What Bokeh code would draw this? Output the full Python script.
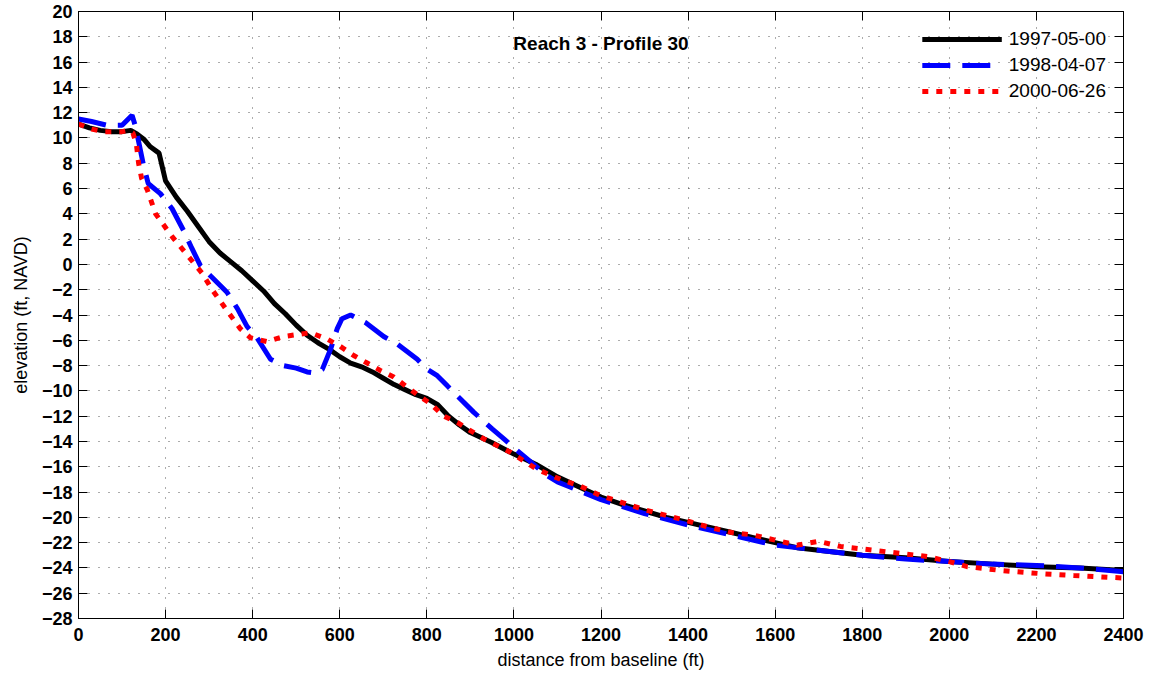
from bokeh.plotting import figure
from bokeh.models import LinearAxis, FixedTicker, Legend, LegendItem, Label
from bokeh.embed import file_html
from bokeh.resources import INLINE

# ---- data ----
x_1997 = [0, 25, 50, 75, 100, 120, 135, 150, 165, 185, 200, 225, 250, 275, 300, 325, 350, 375,
          400, 425, 450, 475, 500, 525, 550, 575, 600, 625, 650, 675, 700, 725, 750, 775, 800,
          825, 850, 875, 900, 950, 1000, 1050, 1100, 1150, 1200, 1250, 1300, 1350, 1400, 1450,
          1500, 1550, 1600, 1650, 1700, 1800, 1900, 2000, 2100, 2200, 2300, 2400]
y_1997 = [11.1, 10.8, 10.6, 10.5, 10.5, 10.6, 10.3, 9.9, 9.3, 8.8, 6.6, 5.3, 4.2, 3.0, 1.8, 0.9,
          0.2, -0.5, -1.3, -2.1, -3.1, -3.9, -4.8, -5.6, -6.2, -6.7, -7.3, -7.8, -8.1, -8.5,
          -9.0, -9.5, -9.9, -10.3, -10.6, -11.1, -12.0, -12.7, -13.3, -14.1, -15.0, -15.8,
          -16.8, -17.6, -18.4, -19.0, -19.5, -20.0, -20.4, -20.8, -21.2, -21.6, -22.0, -22.4,
          -22.6, -23.0, -23.2, -23.5, -23.7, -23.9, -24.0, -24.2]

x_1998 = [0, 30, 66, 100, 123, 131, 149, 160, 188, 215, 241, 260, 280, 303, 341, 365, 387, 410,
          441, 471, 500, 525, 545, 560, 579, 594, 605, 625, 659, 701, 732, 778, 801, 824, 847,
          908, 950, 977, 1000, 1038, 1076, 1100, 1150, 1200, 1300, 1400, 1500, 1600, 1700,
          1800, 1900, 2000, 2100, 2200, 2300, 2400]
y_1998 = [11.5, 11.3, 11.0, 11.0, 11.8, 10.9, 7.9, 6.4, 5.6, 4.4, 2.7, 1.3, -0.1, -0.9, -2.2,
          -3.5, -4.9, -5.8, -7.5, -8.0, -8.2, -8.5, -8.6, -8.3, -6.7, -5.1, -4.3, -4.0, -4.6,
          -5.7, -6.3, -7.5, -8.3, -8.8, -9.6, -11.7, -13.0, -13.8, -14.5, -15.6, -16.7, -17.2,
          -17.9, -18.6, -19.7, -20.6, -21.4, -22.2, -22.6, -23.0, -23.3, -23.5, -23.7, -23.8,
          -24.0, -24.3]

x_2000 = [0, 30, 60, 100, 115, 125, 133, 138, 145, 158, 177, 215, 246, 284, 307, 340, 372, 395,
          433, 471, 533, 571, 602, 632, 663, 694, 724, 778, 808, 839, 870, 931, 992, 1053,
          1107, 1150, 1200, 1300, 1400, 1450, 1500, 1550, 1600, 1650, 1700, 1750, 1800, 1900,
          1950, 2000, 2041, 2118, 2209, 2286, 2400]
y_2000 = [11.1, 10.7, 10.5, 10.5, 10.6, 10.4, 9.5, 8.0, 6.8, 5.9, 4.0, 2.2, 0.9, -0.7, -2.0,
          -3.6, -5.1, -5.8, -6.1, -5.7, -5.4, -5.9, -6.5, -7.2, -7.8, -8.4, -8.9, -10.3, -11.0,
          -12.0, -12.5, -13.8, -14.85, -16.2, -17.0, -17.5, -18.3, -19.4, -20.3, -20.8, -21.2,
          -21.4, -21.8, -22.2, -21.9, -22.3, -22.5, -22.9, -23.1, -23.5, -23.9, -24.2, -24.45,
          -24.6, -24.8]

series_names = ["1997-05-00", "1998-04-07", "2000-06-26"]
x_ticks = list(range(0, 2401, 200))
y_ticks = list(range(-28, 21, 2))
title_text = "Reach 3 - Profile 30"
x_label = "distance from baseline (ft)"
y_label = "elevation (ft, NAVD)"

FONT = "Liberation Sans"

p = figure(width=1148, height=672, output_backend="svg", toolbar_location=None,
           x_range=(0, 2400), y_range=(-28, 20),
           min_border_left=78, min_border_right=25, min_border_top=11, min_border_bottom=52)
p.background_fill_color = "white"
p.border_fill_color = "white"
p.outline_line_color = "black"
p.outline_line_width = 1

r1 = p.line(x_1997, y_1997, line_color="black", line_width=5)
r2 = p.line(x_1998, y_1998, line_color="#0000ff", line_width=5, line_dash="28 12")
r3 = p.line(x_2000, y_2000, line_color="#ff0000", line_width=5, line_dash="6 8")

def style_axis(ax):
    ax.major_tick_in = 9
    ax.major_tick_out = 0
    ax.minor_tick_in = 0
    ax.minor_tick_out = 0
    ax.major_tick_line_color = "black"
    ax.axis_line_color = "black"
    ax.major_label_text_font = FONT
    ax.major_label_text_font_size = "18px"
    ax.major_label_text_font_style = "bold"
    ax.major_label_text_color = "black"
    ax.axis_label_text_font = FONT
    ax.axis_label_text_font_size = "18px"
    ax.axis_label_text_font_style = "normal"
    ax.axis_label_text_color = "black"

xa = p.xaxis[0]
ya = p.yaxis[0]
xa.ticker = FixedTicker(ticks=x_ticks)
ya.ticker = FixedTicker(ticks=y_ticks)
style_axis(xa)
style_axis(ya)
xa.axis_label = x_label
ya.axis_label = y_label
xa.major_label_standoff = 9
ya.major_label_standoff = 6
xa.axis_label_standoff = 6
ya.axis_label_standoff = 8
ya.major_label_overrides = {v: (str(v) if v >= 0 else "\u2212" + str(-v)) for v in y_ticks}

top = LinearAxis(ticker=FixedTicker(ticks=x_ticks))
right = LinearAxis(ticker=FixedTicker(ticks=y_ticks))
for ax in (top, right):
    style_axis(ax)
    ax.major_label_text_font_size = "1px"
    ax.major_label_text_color = None
    ax.major_label_standoff = 0
p.add_layout(top, "above")
p.add_layout(right, "right")

p.xgrid.ticker = FixedTicker(ticks=x_ticks)
p.ygrid.ticker = FixedTicker(ticks=y_ticks)
for g in (p.xgrid, p.ygrid):
    g.grid_line_color = "#202020"
    g.grid_line_alpha = 0.75
    g.grid_line_dash = "1 9"
    g.grid_line_width = 1

p.add_layout(Label(x=1200, y=17.5, text=title_text, text_align="center", text_baseline="middle",
                   text_font=FONT, text_font_size="19px", text_font_style="bold",
                   text_color="black"))

legend = Legend(items=[LegendItem(label=series_names[0], renderers=[r1]),
                       LegendItem(label=series_names[1], renderers=[r2]),
                       LegendItem(label=series_names[2], renderers=[r3])],
                location="top_right")
legend.border_line_alpha = 0
legend.background_fill_alpha = 0
legend.label_text_font = FONT
legend.label_text_font_size = "19px"
legend.label_text_color = "black"
legend.glyph_width = 80
legend.glyph_height = 20
legend.label_height = 20
legend.spacing = 4
legend.padding = 9
legend.margin = 8
legend.label_standoff = 7
p.add_layout(legend)

open("out.html", "w").write(file_html(p, INLINE))
